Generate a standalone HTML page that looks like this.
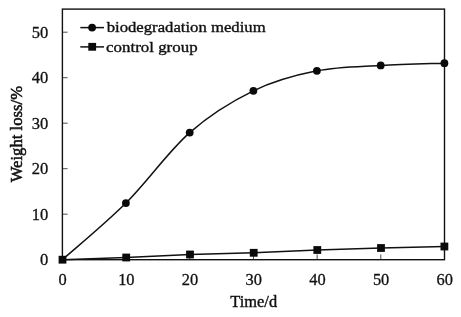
<!DOCTYPE html><html><head><meta charset="utf-8"><title>chart</title><style>html,body{margin:0;padding:0;background:#fff}svg{display:block}text{font-family:"Liberation Serif",serif;fill:#111;stroke:#111;stroke-width:0.4px}</style></head><body>
<svg width="461" height="317" viewBox="0 0 461 317">
<rect width="461" height="317" fill="#fff"/>
<rect x="62.40" y="9.10" width="382.10" height="250.60" fill="none" stroke="#111" stroke-width="1.4"/>
<line x1="126.08" y1="259.70" x2="126.08" y2="254.50" stroke="#222" stroke-width="0.8"/>
<line x1="189.77" y1="259.70" x2="189.77" y2="254.50" stroke="#222" stroke-width="0.8"/>
<line x1="253.45" y1="259.70" x2="253.45" y2="254.50" stroke="#222" stroke-width="0.8"/>
<line x1="317.13" y1="259.70" x2="317.13" y2="254.50" stroke="#222" stroke-width="0.8"/>
<line x1="380.82" y1="259.70" x2="380.82" y2="254.50" stroke="#222" stroke-width="0.8"/>
<line x1="62.40" y1="214.20" x2="67.60" y2="214.20" stroke="#222" stroke-width="0.8"/>
<line x1="62.40" y1="168.70" x2="67.60" y2="168.70" stroke="#222" stroke-width="0.8"/>
<line x1="62.40" y1="123.20" x2="67.60" y2="123.20" stroke="#222" stroke-width="0.8"/>
<line x1="62.40" y1="77.70" x2="67.60" y2="77.70" stroke="#222" stroke-width="0.8"/>
<line x1="62.40" y1="32.20" x2="67.60" y2="32.20" stroke="#222" stroke-width="0.8"/>
<path d="M62.40,259.70 C72.98,250.26 104.68,224.23 125.90,203.05 C147.12,181.87 168.45,151.31 189.70,132.60 C210.95,113.89 232.20,101.10 253.40,90.80 C274.60,80.50 295.68,75.03 316.90,70.80 C338.12,66.57 359.45,66.67 380.70,65.40 C401.95,64.13 433.78,63.57 444.40,63.20" fill="none" stroke="#111" stroke-width="1.5"/>
<polyline points="62.50,259.70 126.20,257.50 190.00,254.50 253.70,252.80 317.30,250.00 381.00,248.00 444.40,246.50" fill="none" stroke="#111" stroke-width="1.5"/>
<circle cx="125.90" cy="203.05" r="3.9" fill="#0a0a0a"/>
<circle cx="189.70" cy="132.60" r="3.9" fill="#0a0a0a"/>
<circle cx="253.40" cy="90.80" r="3.9" fill="#0a0a0a"/>
<circle cx="316.90" cy="70.80" r="3.9" fill="#0a0a0a"/>
<circle cx="380.70" cy="65.40" r="3.9" fill="#0a0a0a"/>
<circle cx="444.40" cy="63.20" r="3.9" fill="#0a0a0a"/>
<rect x="58.60" y="255.80" width="7.8" height="7.8" fill="#0a0a0a"/>
<rect x="122.30" y="253.60" width="7.8" height="7.8" fill="#0a0a0a"/>
<rect x="186.10" y="250.60" width="7.8" height="7.8" fill="#0a0a0a"/>
<rect x="249.80" y="248.90" width="7.8" height="7.8" fill="#0a0a0a"/>
<rect x="313.40" y="246.10" width="7.8" height="7.8" fill="#0a0a0a"/>
<rect x="377.10" y="244.10" width="7.8" height="7.8" fill="#0a0a0a"/>
<rect x="440.50" y="242.60" width="7.8" height="7.8" fill="#0a0a0a"/>
<line x1="80.3" y1="27.6" x2="104" y2="27.6" stroke="#111" stroke-width="1.5"/><circle cx="92.1" cy="27.6" r="3.9" fill="#0a0a0a"/>
<line x1="80.3" y1="46.9" x2="104" y2="46.9" stroke="#111" stroke-width="1.5"/><rect x="88.3" y="42.9" width="7.8" height="7.8" fill="#0a0a0a"/>
<text transform="translate(106.7,32.4) scale(1,0.92)" font-size="16.7">biodegradation medium</text>
<text transform="translate(106.1,52.0) scale(1,0.905)" font-size="16.9">control group</text>
<text x="62.70" y="284.8" font-size="16.4" style="stroke-width:0.3px" text-anchor="middle">0</text>
<text x="126.38" y="284.8" font-size="16.4" style="stroke-width:0.3px" text-anchor="middle">10</text>
<text x="190.07" y="284.8" font-size="16.4" style="stroke-width:0.3px" text-anchor="middle">20</text>
<text x="253.75" y="284.8" font-size="16.4" style="stroke-width:0.3px" text-anchor="middle">30</text>
<text x="317.43" y="284.8" font-size="16.4" style="stroke-width:0.3px" text-anchor="middle">40</text>
<text x="381.12" y="284.8" font-size="16.4" style="stroke-width:0.3px" text-anchor="middle">50</text>
<text x="444.80" y="284.8" font-size="16.4" style="stroke-width:0.3px" text-anchor="middle">60</text>
<text x="48.2" y="265.40" font-size="16.5" style="stroke-width:0.3px" text-anchor="end">0</text>
<text x="48.2" y="219.90" font-size="16.5" style="stroke-width:0.3px" text-anchor="end">10</text>
<text x="48.2" y="174.40" font-size="16.5" style="stroke-width:0.3px" text-anchor="end">20</text>
<text x="48.2" y="128.90" font-size="16.5" style="stroke-width:0.3px" text-anchor="end">30</text>
<text x="48.2" y="83.40" font-size="16.5" style="stroke-width:0.3px" text-anchor="end">40</text>
<text x="48.2" y="37.90" font-size="16.5" style="stroke-width:0.3px" text-anchor="end">50</text>
<text x="253.7" y="307.2" font-size="16.4" text-anchor="middle">Time/d</text>
<text transform="translate(22.3,134.1) rotate(-90)" font-size="16.7" style="stroke-width:0.55px" text-anchor="middle">Weight loss/%</text>
</svg></body></html>
